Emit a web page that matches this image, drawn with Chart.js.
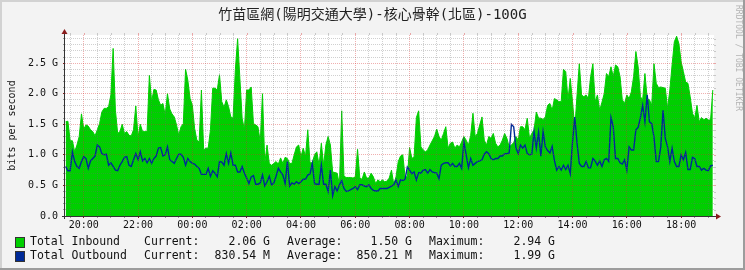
<!DOCTYPE html>
<html>
<head>
<meta charset="utf-8">
<script src="https://cdn.jsdelivr.net/npm/chart.js@4.4.1/dist/chart.umd.min.js"></script>
<style>
  html, body { margin: 0; padding: 0; background: #f3f3f3; }
  canvas { display: block; }
</style>
</head>
<body>
<canvas id="traffic" width="745" height="270"></canvas>
<script>
const MONO = '"DejaVu Sans Mono", "Noto Sans CJK TC", monospace';

const chartTitle = '竹苗區網(陽明交通大學)-核心骨幹(北區)-100G';
const axisTitle = 'bits per second';
const watermark = 'RRDTOOL / TOBI OETIKER';

// time is counted in hours from 19:00, one sample every 5 minutes
const firstSampleHour = 1 / 3;
const sampleStepHour = 1 / 12;
const viewStartHour = 0.31;
const viewEndHour = 24.21;
const hourLabels = ['20:00', '22:00', '00:00', '02:00', '04:00', '06:00',
                    '08:00', '10:00', '12:00', '14:00', '16:00', '18:00'];
const yMaxG = 2.96;

// Gbit/s
const inbound = [
  1.54, 1.55, 1.23, 1.23, 1.05, 1.16, 1.30, 1.67, 1.42, 1.49,
  1.47, 1.41, 1.38, 1.31, 1.41, 1.51, 1.70, 1.76, 1.76, 1.79,
  1.98, 2.74, 1.73, 1.35, 1.38, 1.50, 1.35, 1.38, 1.32, 1.31,
  1.41, 1.80, 1.29, 1.50, 1.38, 1.38, 1.38, 2.30, 1.87, 2.07,
  2.06, 1.90, 1.81, 1.84, 1.65, 2.00, 1.75, 1.67, 1.62, 1.49,
  1.32, 1.46, 1.51, 2.40, 2.22, 1.92, 1.81, 1.43, 1.24, 1.21,
  2.06, 1.08, 1.11, 1.11, 1.41, 2.09, 2.09, 2.06, 2.31, 1.87,
  1.78, 1.90, 1.79, 1.62, 1.60, 2.39, 2.90, 2.25, 1.60, 1.41,
  2.06, 2.06, 2.11, 1.51, 1.49, 1.46, 1.21, 2.00, 0.86, 1.16,
  0.86, 0.83, 0.86, 0.89, 0.85, 0.95, 0.86, 0.96, 0.94, 0.86,
  0.86, 1.00, 1.13, 1.16, 0.97, 1.11, 0.97, 1.41, 0.87, 0.87,
  1.00, 1.05, 0.83, 1.19, 0.83, 1.16, 1.30, 1.16, 0.72, 0.71,
  0.70, 0.51, 1.72, 0.65, 0.63, 0.63, 0.63, 0.62, 0.64, 1.09,
  0.62, 0.60, 0.72, 0.62, 0.62, 0.70, 0.64, 0.53, 0.59, 0.56,
  0.59, 0.56, 0.57, 0.62, 0.75, 0.52, 0.64, 0.89, 0.98, 1.00,
  0.64, 0.64, 1.12, 0.94, 0.97, 1.61, 1.72, 1.13, 1.08, 1.05,
  1.08, 1.16, 1.23, 1.30, 1.42, 1.30, 1.24, 1.35, 1.46, 1.11,
  1.19, 1.21, 1.11, 1.16, 1.13, 1.21, 1.30, 1.24, 1.16, 1.32,
  1.68, 1.30, 1.35, 1.49, 1.62, 1.24, 1.16, 1.30, 1.27, 1.35,
  1.19, 1.13, 1.16, 1.24, 1.35, 1.27, 1.13, 1.16, 1.20, 1.30,
  1.24, 1.46, 1.46, 1.41, 1.60, 1.27, 1.35, 1.41, 1.70, 1.60,
  1.60, 1.58, 1.62, 1.81, 1.84, 1.73, 1.92, 1.90, 1.87, 1.87,
  2.40, 2.36, 1.90, 2.25, 1.87, 1.43, 1.98, 2.49, 1.98, 1.95,
  1.98, 1.92, 2.28, 2.49, 1.87, 1.98, 1.73, 1.86, 2.00, 2.33,
  2.28, 2.44, 2.28, 2.47, 2.44, 2.28, 1.90, 1.84, 1.98, 1.92,
  2.03, 2.28, 2.69, 2.44, 1.95, 1.90, 2.33, 1.92, 1.90, 1.81,
  2.49, 2.17, 2.10, 2.11, 2.10, 2.09, 1.76, 2.06, 2.47, 2.85,
  2.94, 2.82, 2.52, 2.36, 2.19, 2.17, 1.95, 1.68, 1.60, 1.81,
  1.54, 1.61, 1.57, 1.60, 1.57, 1.57, 2.06
];

const outbound = [
  0.81, 0.74, 0.74, 1.05, 0.89, 0.81, 0.78, 0.89, 0.97, 0.94,
  0.78, 0.90, 0.94, 0.98, 1.16, 1.13, 1.02, 1.00, 1.01, 0.83,
  0.87, 0.81, 0.75, 0.74, 0.83, 0.89, 0.96, 0.97, 0.83, 0.81,
  0.92, 1.02, 0.92, 1.05, 0.90, 0.94, 0.87, 0.94, 0.86, 0.94,
  0.98, 1.11, 1.12, 0.98, 1.00, 1.13, 0.92, 0.89, 0.86, 0.94,
  1.01, 1.01, 0.96, 0.83, 0.94, 0.89, 0.86, 0.85, 0.81, 0.78,
  0.68, 0.68, 0.68, 0.78, 0.65, 0.74, 0.70, 0.64, 0.89, 0.88,
  0.83, 1.02, 0.86, 1.03, 0.83, 0.83, 0.72, 0.72, 0.81, 0.70,
  0.62, 0.53, 0.64, 0.66, 0.52, 0.52, 0.54, 0.67, 0.49, 0.56,
  0.65, 0.51, 0.54, 0.65, 0.78, 0.72, 0.67, 0.53, 0.89, 0.49,
  0.54, 0.52, 0.56, 0.53, 0.56, 0.60, 0.60, 0.67, 0.69, 0.86,
  0.53, 0.52, 0.52, 0.83, 0.52, 0.52, 0.40, 0.75, 0.33, 0.48,
  0.41, 0.51, 0.58, 0.45, 0.40, 0.41, 0.43, 0.45, 0.48, 0.43,
  0.51, 0.51, 0.49, 0.48, 0.51, 0.45, 0.42, 0.41, 0.41, 0.45,
  0.45, 0.45, 0.45, 0.47, 0.49, 0.51, 0.59, 0.48, 0.59, 0.58,
  0.60, 0.80, 0.75, 0.69, 0.72, 0.59, 0.71, 0.70, 0.75, 0.76,
  0.70, 0.76, 0.72, 0.71, 0.70, 0.61, 0.83, 0.86, 0.87, 0.87,
  0.82, 0.86, 0.81, 0.81, 0.86, 0.78, 1.21, 1.00, 0.79, 0.94,
  0.83, 0.86, 0.89, 0.90, 0.92, 1.01, 1.05, 1.02, 0.94, 0.92,
  0.94, 0.94, 0.98, 0.98, 1.02, 1.02, 1.03, 1.50, 1.46, 1.11,
  1.02, 1.16, 1.11, 1.16, 1.02, 1.00, 1.01, 1.38, 1.11, 1.37,
  0.98, 1.38, 1.13, 1.07, 1.03, 1.14, 0.91, 0.75, 0.81, 0.75,
  0.83, 0.76, 0.83, 0.69, 1.21, 1.62, 1.19, 0.86, 0.81, 0.81,
  0.89, 0.79, 0.79, 0.94, 0.90, 0.83, 0.90, 0.81, 0.92, 0.94,
  0.89, 1.61, 1.46, 0.94, 0.94, 0.87, 0.85, 0.92, 0.75, 1.13,
  1.08, 1.08, 1.41, 1.45, 1.61, 1.81, 1.54, 1.98, 1.54, 1.51,
  1.29, 0.89, 0.89, 1.13, 1.73, 1.27, 1.13, 0.89, 1.11, 0.89,
  0.81, 0.81, 1.00, 0.92, 1.04, 0.76, 0.76, 0.96, 0.94, 0.81,
  0.81, 0.75, 0.78, 0.75, 0.74, 0.82, 0.83
];

const seriesNames = ['Total Inbound', 'Total Outbound'];
const seriesColors = ['#00CF00', '#002A97'];
const currentVals = ['2.06 G', '830.54 M'];
const averageVals = ['1.50 G', '850.21 M'];
const maximumVals = ['2.94 G', '1.99 G'];

const GRID_MINOR = 'rgba(110,110,110,0.32)';
const GRID_MAJOR = 'rgba(215,45,45,0.38)';

function toPoints(arr) {
  return arr.map((v, i) => ({ x: firstSampleHour + i * sampleStepHour, y: v }));
}
function isMajorX(v) {
  const r = Math.round(v);
  return Math.abs(v - r) < 1e-6 && r % 2 === 1;
}
function isMajorY(v) {
  return Math.abs(v * 2 - Math.round(v * 2)) < 1e-6;
}
function xGridColor(ctx) { return isMajorX(ctx.tick.value) ? GRID_MAJOR : GRID_MINOR; }
function yGridColor(ctx) { return isMajorY(ctx.tick.value) ? GRID_MAJOR : GRID_MINOR; }
function yLabel(v) {
  if (!isMajorY(v)) return '';
  return v === 0 ? '0.0' : v.toFixed(1) + ' G';
}

const rrdFrame = {
  id: 'rrdFrame',
  beforeDraw(chart) {
    const { ctx, chartArea: a, width: w, height: h } = chart;
    ctx.save();
    ctx.fillStyle = '#F3F3F3';
    ctx.fillRect(0, 0, w, h);
    ctx.fillStyle = '#FFFFFF';
    ctx.fillRect(a.left, a.top, a.right - a.left, a.bottom - a.top);
    // shaded frame
    ctx.fillStyle = '#D2D2D2';
    ctx.fillRect(0, 0, w, 2);
    ctx.fillRect(0, 0, 2, h);
    ctx.fillStyle = '#9C9C9C';
    ctx.fillRect(0, h - 2, w, 2);
    ctx.fillRect(w - 2, 0, 2, h);
    // title
    ctx.fillStyle = '#222';
    ctx.font = '14px ' + MONO;
    ctx.textAlign = 'center';
    ctx.textBaseline = 'middle';
    ctx.fillText(chartTitle, w / 2, 15);
    // watermark
    ctx.translate(738, 5);
    ctx.rotate(Math.PI / 2);
    ctx.font = '8px ' + MONO;
    ctx.fillStyle = '#B4B4B4';
    ctx.textAlign = 'left';
    ctx.fillText(watermark, 0, 0);
    ctx.restore();
  },
  afterDraw(chart) {
    const { ctx, chartArea: a, scales } = chart;
    ctx.save();
    ctx.lineWidth = 1;
    // grid stubs outside the plot
    scales.x.ticks.forEach(t => {
      const px = Math.round(scales.x.getPixelForValue(t.value)) + 0.5;
      ctx.strokeStyle = isMajorX(t.value) ? GRID_MAJOR : GRID_MINOR;
      ctx.beginPath(); ctx.moveTo(px, a.top - 2); ctx.lineTo(px, a.top); ctx.stroke();
    });
    scales.y.ticks.forEach(t => {
      const py = Math.round(scales.y.getPixelForValue(t.value)) + 0.5;
      ctx.strokeStyle = isMajorY(t.value) ? GRID_MAJOR : GRID_MINOR;
      ctx.beginPath(); ctx.moveTo(a.right, py); ctx.lineTo(a.right + 2, py); ctx.stroke();
    });
    // axes
    const ax = a.left - 0.5, ay = a.bottom + 0.5;
    ctx.strokeStyle = '#333';
    ctx.beginPath(); ctx.moveTo(a.left - 3, ay); ctx.lineTo(a.right + 3, ay); ctx.stroke();
    ctx.beginPath(); ctx.moveTo(ax, a.bottom + 3); ctx.lineTo(ax, a.top - 2); ctx.stroke();
    ctx.fillStyle = '#8A1C1C';
    ctx.beginPath();
    ctx.moveTo(ax, a.top - 6); ctx.lineTo(ax - 3, a.top - 1); ctx.lineTo(ax + 3, a.top - 1);
    ctx.closePath(); ctx.fill();
    ctx.beginPath();
    ctx.moveTo(a.right + 7, ay); ctx.lineTo(a.right + 2, ay - 3); ctx.lineTo(a.right + 2, ay + 3);
    ctx.closePath(); ctx.fill();
    // legend
    ctx.font = '11.5px ' + MONO;
    ctx.textBaseline = 'middle';
    seriesNames.forEach((name, i) => {
      const y = 242.5 + i * 14;
      ctx.fillStyle = seriesColors[i];
      ctx.fillRect(16, y - 4.5, 8, 9);
      ctx.strokeStyle = '#333';
      ctx.strokeRect(15.5, y - 5, 9, 10);
      ctx.fillStyle = '#111';
      ctx.textAlign = 'left';
      ctx.fillText(name, 30, y);
      ctx.fillText('Current:', 144, y);
      ctx.fillText('Average:', 287, y);
      ctx.fillText('Maximum:', 429, y);
      ctx.textAlign = 'right';
      ctx.fillText(currentVals[i], 270, y);
      ctx.fillText(averageVals[i], 412, y);
      ctx.fillText(maximumVals[i], 555, y);
    });
    ctx.restore();
  }
};

new Chart(document.getElementById('traffic'), {
  type: 'line',
  data: {
    datasets: [{
      label: seriesNames[0],
      data: toPoints(inbound),
      fill: 'origin',
      backgroundColor: seriesColors[0],
      borderColor: seriesColors[0],
      borderWidth: 1,
      pointRadius: 0,
      tension: 0,
      order: 2
    }, {
      label: seriesNames[1],
      data: toPoints(outbound),
      fill: false,
      borderColor: seriesColors[1],
      borderWidth: 1.4,
      pointRadius: 0,
      tension: 0,
      order: 1
    }]
  },
  options: {
    responsive: false,
    animation: false,
    devicePixelRatio: 1,
    events: [],
    layout: { padding: { left: 0, right: 31, top: 35, bottom: 34 } },
    plugins: {
      legend: { display: false },
      title: { display: false },
      tooltip: { enabled: false }
    },
    scales: {
      x: {
        type: 'linear',
        min: viewStartHour,
        max: viewEndHour,
        afterFit: s => { s.height = 20; },
        ticks: {
          stepSize: 0.5,
          autoSkip: false,
          includeBounds: false,
          maxTicksLimit: 1000,
          maxRotation: 0,
          padding: 1,
          color: '#111',
          font: { family: MONO, size: 10 },
          callback: v => isMajorX(v) ? hourLabels[(Math.round(v) - 1) / 2] : ''
        },
        grid: {
          z: 1,
          color: xGridColor,
          tickColor: ctx => isMajorX(ctx.tick.value) ? '#8A1C1C' : '#999',
          tickLength: 2,
          lineWidth: 1
        },
        border: { display: false, dash: [1, 1] }
      },
      y: {
        min: 0,
        max: yMaxG,
        afterFit: s => { s.width = 65; },
        ticks: {
          stepSize: 0.1,
          autoSkip: false,
          includeBounds: false,
          maxTicksLimit: 1000,
          padding: 5,
          color: '#111',
          font: { family: MONO, size: 10 },
          callback: yLabel
        },
        grid: {
          z: 1,
          color: yGridColor,
          tickColor: ctx => isMajorY(ctx.tick.value) ? '#8A1C1C' : '#999',
          tickLength: 2,
          lineWidth: 1
        },
        border: { display: false, dash: [1, 1] },
        title: {
          display: true,
          text: axisTitle,
          color: '#111',
          font: { family: MONO, size: 10 },
          padding: { top: 6, bottom: 0 }
        }
      }
    }
  },
  plugins: [rrdFrame]
});
</script>
</body>
</html>
